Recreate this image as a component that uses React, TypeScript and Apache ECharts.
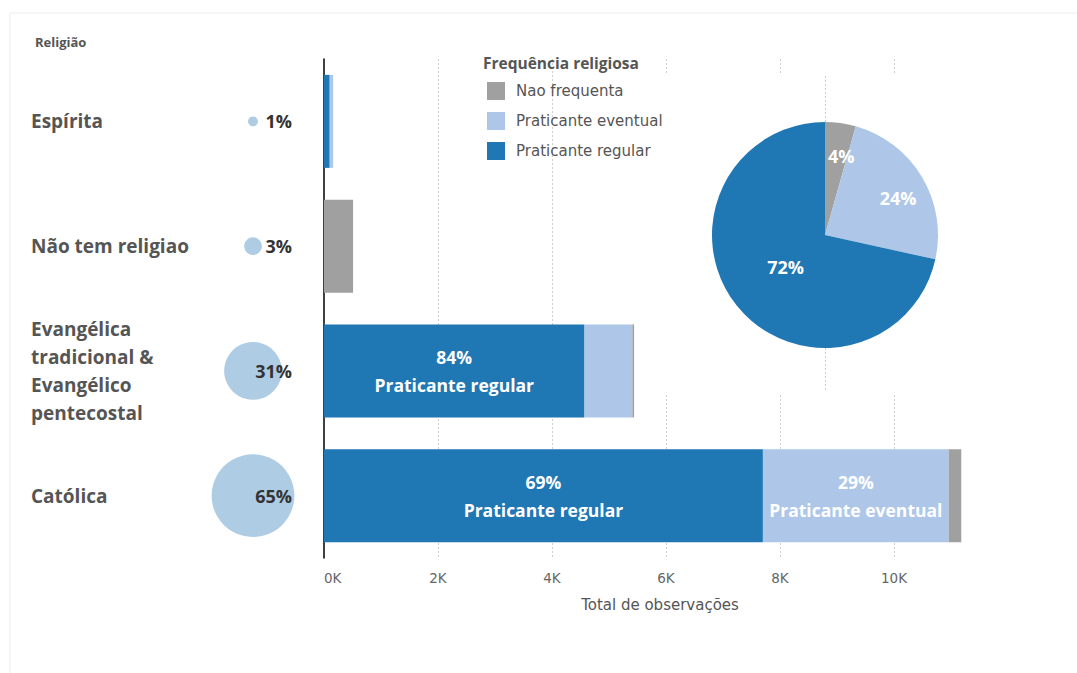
import React, { useEffect, useRef } from 'react';
import * as echarts from 'echarts';

// ---- Data ----
const religioes = [
  'Espírita',
  'Não tem religiao',
  'Evangélica tradicional & Evangélico pentecostal',
  'Católica',
];
const praticanteRegular = [100, 0, 4570, 7700];
const praticanteEventual = [60, 0, 840, 3260];
const naoFrequenta = [0, 510, 30, 220];
const frequencias = ['Nao frequenta', 'Praticante eventual', 'Praticante regular'];
const xTickValues = [0, 2000, 4000, 6000, 8000, 10000, 12000];

// ---- Style ----
const BOLD_FONT = '"Open Sans", sans-serif';
const REG_FONT = '"DejaVu Sans", sans-serif';
const C_REG = '#1f77b4';
const C_EVT = '#aec7e8';
const C_NAO = '#a0a0a0';
const C_BUB = '#aecde4';

export default function App() {
  const ref = useRef<HTMLDivElement>(null);

  useEffect(() => {
    if (!ref.current) return;
    const chart = echarts.init(ref.current, undefined, { renderer: 'svg' });

    const totals = religioes.map(
      (_, i) => praticanteRegular[i] + praticanteEventual[i] + naoFrequenta[i]
    );
    const grand = totals.reduce((a, b) => a + b, 0);
    const sum = (a: number[]) => a.reduce((x, y) => x + y, 0);
    const pieValues = [sum(naoFrequenta), sum(praticanteEventual), sum(praticanteRegular)];
    const pieColors = [C_NAO, C_EVT, C_REG];
    const pieLabelNudge = [
      [8, -20],
      [22, -6],
      [7, -5],
    ];

    const barLabel = {
      show: true,
      position: 'inside',
      color: '#fff',
      fontFamily: BOLD_FONT,
      fontSize: 17.5,
      fontWeight: 'bold',
      lineHeight: 28,
      formatter: (p: any) => {
        const share = p.value / totals[p.dataIndex];
        if (share < 0.25 || p.value < 2000) return '';
        return Math.round(share * 100) + '%\n' + p.seriesName;
      },
    };

    const splitColors = xTickValues.map((v, i) =>
      i === 0 || i === xTickValues.length - 1 ? 'rgba(0,0,0,0)' : '#cfcfcf'
    );

    chart.setOption({
      animation: false,
      textStyle: { fontFamily: REG_FONT },
      legend: {
        orient: 'vertical',
        left: 487,
        top: 82,
        padding: 0,
        itemWidth: 18,
        itemHeight: 18,
        itemGap: 12,
        icon: 'rect',
        selectedMode: false,
        data: frequencias,
        textStyle: { fontSize: 15, color: '#555', fontFamily: REG_FONT, lineHeight: 18, padding: [0, 0, 0, 6] },
      },
      grid: [
        { left: 324, right: 69, top: 59, bottom: 115 },
        { left: 203, width: 100, top: 59, bottom: 115 },
      ],
      xAxis: [
        {
          type: 'value',
          gridIndex: 0,
          min: 0,
          max: 12000,
          interval: 2000,
          axisLine: { show: false },
          axisTick: { show: false },
          axisLabel: {
            color: '#666',
            fontSize: 13.5,
            margin: 13,
            fontFamily: REG_FONT,
            alignMinLabel: 'left',
            formatter: (v: number) => (v >= 12000 ? '' : v / 1000 + 'K'),
          },
          splitLine: {
            show: true,
            lineStyle: { type: [2, 2], color: splitColors, width: 1 },
          },
          name: 'Total de observações',
          nameLocation: 'middle',
          nameGap: 39,
          nameTextStyle: { color: '#555', fontSize: 15, fontFamily: REG_FONT, padding: [0, 12, 0, 0] },
        },
        { type: 'value', gridIndex: 1, min: -1, max: 1, show: false },
      ],
      yAxis: [
        {
          type: 'category',
          gridIndex: 0,
          inverse: true,
          data: religioes,
          axisLine: { show: true, lineStyle: { color: '#000', width: 1.5 } },
          axisTick: { show: false },
          axisLabel: {
            align: 'left',
            margin: 293,
            fontSize: 19,
            fontWeight: 'bold',
            color: '#555',
            width: 180,
            overflow: 'break',
            lineHeight: 28,
            fontFamily: BOLD_FONT,
          },
        },
        {
          type: 'category',
          gridIndex: 1,
          inverse: true,
          data: religioes,
          show: false,
        },
      ],
      graphic: [
        {
          type: 'rect',
          z: 0,
          shape: { x: 10, y: 13, width: 1200, height: 800 },
          style: { fill: 'none', stroke: '#ececec', lineWidth: 1 },
        },
        {
          type: 'text',
          z: 5,
          x: 35,
          y: 42,
          style: {
            text: 'Religião',
            fontFamily: BOLD_FONT,
            fontSize: 13,
            fontWeight: 'bold',
            fill: '#555',
            verticalAlign: 'middle',
          },
        },
        {
          type: 'text',
          z: 5,
          x: 483,
          y: 63,
          style: {
            text: 'Frequência religiosa',
            fontFamily: BOLD_FONT,
            fontSize: 15.5,
            fontWeight: 'bold',
            fill: '#555',
            verticalAlign: 'middle',
          },
        },
        {
          type: 'rect',
          z: 1,
          shape: { x: 650, y: 75, width: 350, height: 320 },
          style: { fill: '#fff' },
        },
        {
          type: 'line',
          z: 1,
          shape: { x1: 825.5, y1: 76, x2: 825.5, y2: 392 },
          style: { stroke: '#cfcfcf', lineWidth: 1, lineDash: [2, 2] },
        },
      ],
      series: [
        {
          name: 'Praticante regular',
          type: 'bar',
          stack: 'total',
          xAxisIndex: 0,
          yAxisIndex: 0,
          barWidth: 93,
          itemStyle: { color: C_REG },
          label: barLabel,
          data: praticanteRegular,
        },
        {
          name: 'Praticante eventual',
          type: 'bar',
          stack: 'total',
          xAxisIndex: 0,
          yAxisIndex: 0,
          barWidth: 93,
          itemStyle: { color: C_EVT },
          label: barLabel,
          data: praticanteEventual,
        },
        {
          name: 'Nao frequenta',
          type: 'bar',
          stack: 'total',
          xAxisIndex: 0,
          yAxisIndex: 0,
          barWidth: 93,
          itemStyle: { color: C_NAO },
          label: barLabel,
          data: naoFrequenta,
        },
        {
          name: 'Religião share',
          type: 'scatter',
          xAxisIndex: 1,
          yAxisIndex: 1,
          symbol: 'circle',
          symbolSize: (v: any) => 83 * Math.sqrt(v[2] / 0.65),
          itemStyle: { color: C_BUB, opacity: 1 },
          label: {
            show: true,
            position: 'inside',
            align: 'right',
            offset: [39, 0],
            color: '#333',
            fontFamily: BOLD_FONT,
            fontSize: 18,
            fontWeight: 'bold',
            formatter: (p: any) => Math.round(p.value[2] * 100) + '%',
          },
          data: religioes.map((r, i) => [0, r, totals[i] / grand]),
        },
        {
          name: 'Frequência religiosa',
          type: 'pie',
          center: [825, 235],
          radius: 113,
          startAngle: 90,
          clockwise: true,
          z: 3,
          label: {
            show: true,
            position: 'inside',
            color: '#fff',
            fontFamily: BOLD_FONT,
            fontSize: 18,
            fontWeight: 'bold',
            formatter: (p: any) => Math.round(p.percent) + '%',
          },
          labelLine: { show: false },
          labelLayout: (p: any) => ({
            dx: pieLabelNudge[p.dataIndex][0],
            dy: pieLabelNudge[p.dataIndex][1],
          }),
          data: frequencias.map((name, i) => ({
            name,
            value: pieValues[i],
            itemStyle: { color: pieColors[i] },
          })),
        },
      ],
    });

    return () => chart.dispose();
  }, []);

  return (
    <div
      ref={ref}
      style={{ position: 'fixed', left: 0, top: 0, width: 1077, height: 673, background: '#fff' }}
    />
  );
}
